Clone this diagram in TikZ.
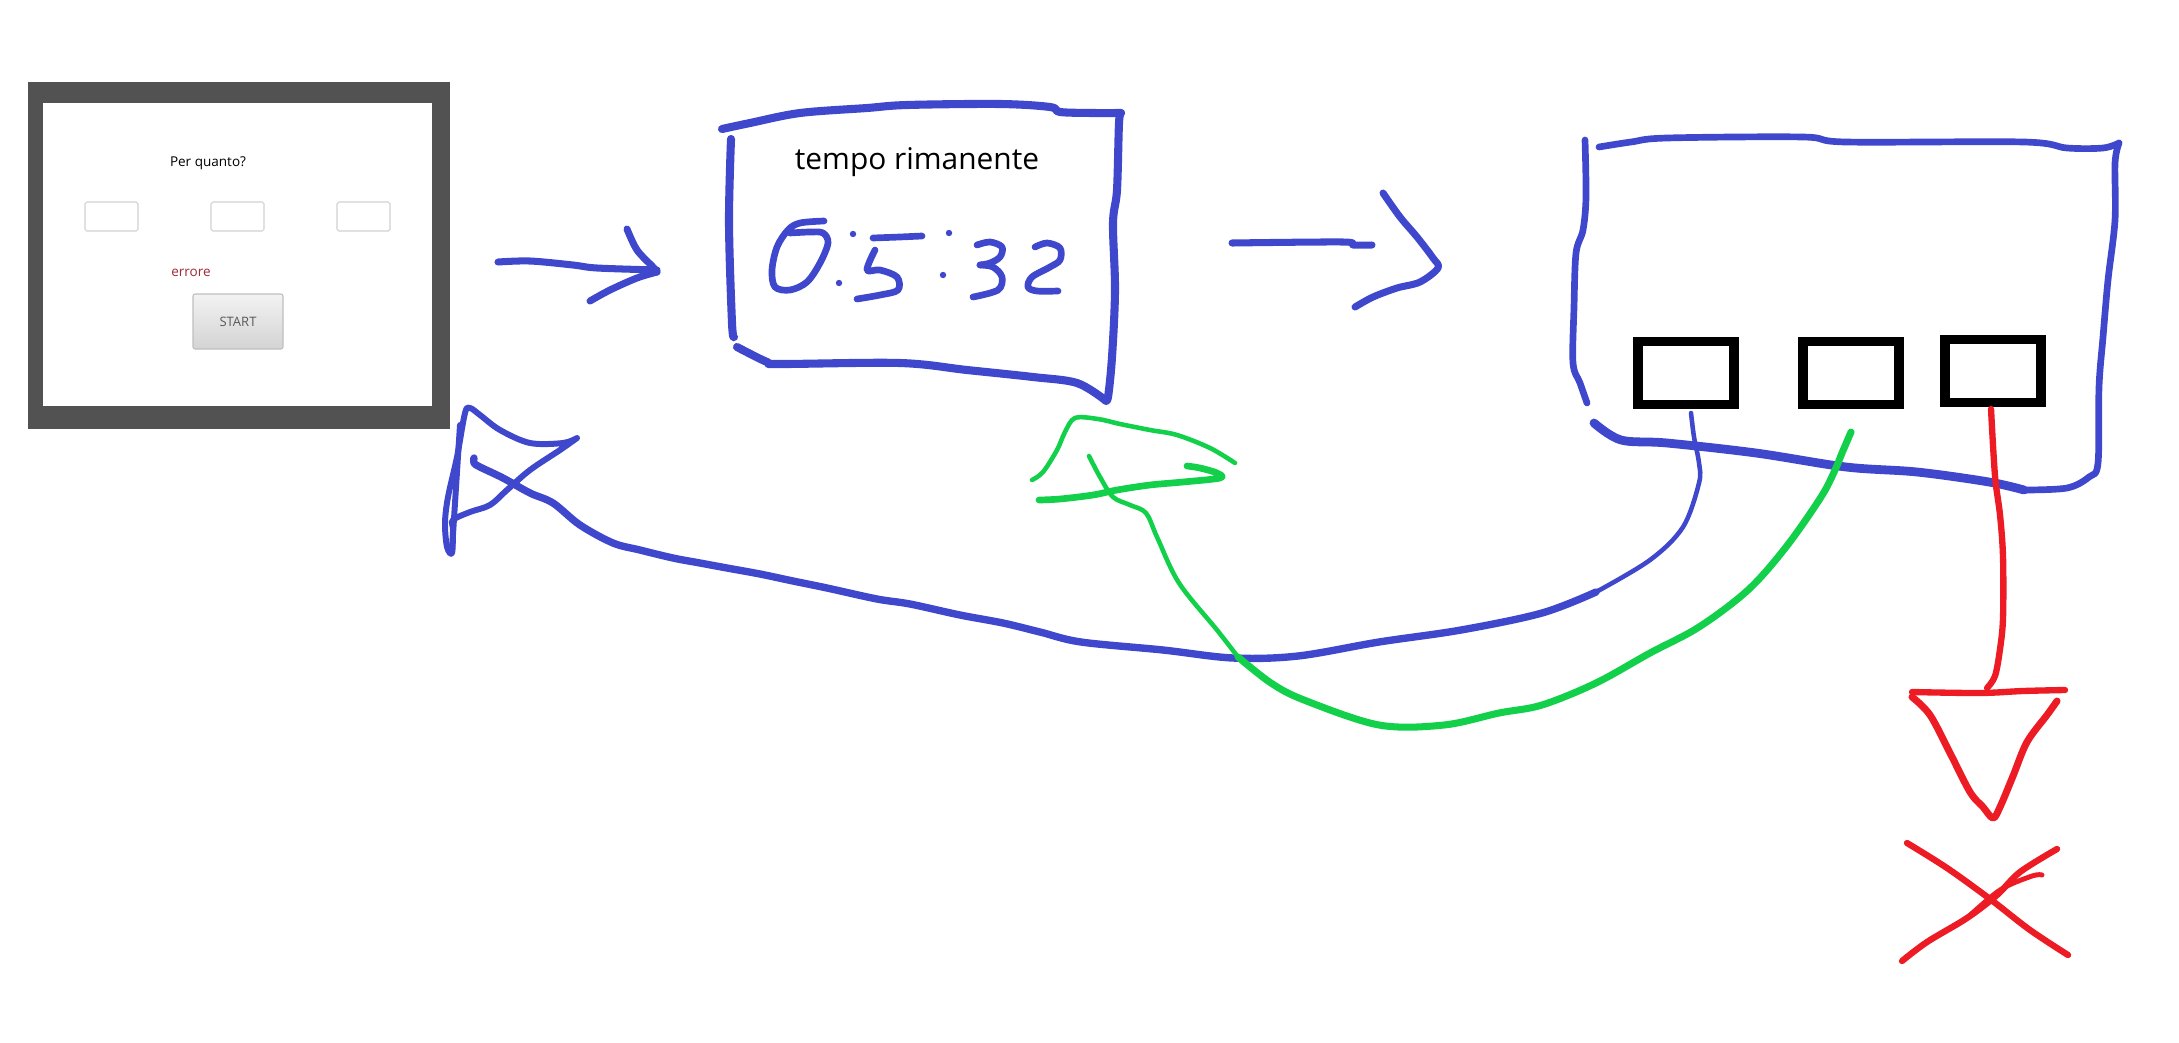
\documentclass[tikz,border=0pt]{standalone}
\usepackage{fontspec}
\setmainfont{Open Sans}
\definecolor{penblue}{HTML}{3F48CC}
\definecolor{pengreen}{HTML}{12D04A}
\definecolor{penred}{HTML}{ED1C24}
\definecolor{framegray}{HTML}{525252}
\definecolor{errred}{HTML}{9E2A35}
\tikzset{
	pen/.style={line width=#1, line cap=round, line join=round},
	pen/.default=2pt,
	bluepen/.style={pen=#1, penblue},
	bluepen/.default=2pt,
	greenpen/.style={pen=#1, pengreen},
	greenpen/.default=1.6pt,
	redpen/.style={pen=#1, penred},
	redpen/.default=1.8pt,
	field/.style={draw=black!18, fill=white, rounded corners=0.5pt, line width=0.3pt},
	slot/.style={draw=black, line width=2.7pt, minimum width=96pt*0.2845, inner sep=0pt},
	hand/.style={smooth, tension=0.55},
}
\begin{document}
\begin{tikzpicture}[x=0.01cm, y=-0.01cm]
	\useasboundingbox (0,0) rectangle (2179,1042);
	% input window
	\fill[framegray] (28,82) rectangle (450,429);
	\fill[white] (43,103) rectangle (432,406);
	\node (ask) at (208,163) {\fontsize{3.85}{4.6}\selectfont Per quanto?};
	\draw[field] (85,202) rectangle (138,231);
	\draw[field] (211,202) rectangle (264,231);
	\draw[field] (337,202) rectangle (390,231);
	\node[text=errred] (err) at (191,273) {\fontsize{3.85}{4.6}\selectfont errore};
	\shade[top color=black!5, bottom color=black!17, draw=black!25, line width=0.3pt, rounded corners=0.6pt]
		(193,294) rectangle (283,349);
	\node[text=black!65] (start) at (238,322) {\fontsize{3.7}{4.4}\selectfont START};
	% timer
	\draw[bluepen=2.3pt] plot[hand] coordinates {(722,129) (750,123) (800,113) (867,108) (907,105) (1000,104)
		(1050,107) (1060,112) (1093,113) (1121,113)};
	\draw[bluepen=2.3pt] plot[hand] coordinates {(1121,113) (1119,123) (1117,190) (1113,223) (1115,290)
		(1112,357) (1108,397) (1105,400)};
	\draw[bluepen=2.3pt] plot[hand] coordinates {(1105,400) (1077,383) (1033,377) (967,370) (900,363)
		(780,364) (767,362) (737,347)};
	\draw[bluepen=2.3pt] plot[hand] coordinates {(731,139) (729,223) (732,323) (734,337)};
	\node (label) at (917,162) {\fontsize{8.5}{10}\selectfont tempo rimanente};
	\draw[bluepen=1.9pt] plot[hand] coordinates {(824,221) (800,223) (788,230) (777,247) (772,270) (775,287)
		(790,290) (807,282) (820,263) (828,243) (823,233) (810,232) (790,233)};
	\draw[bluepen=1.9pt] (873,238) -- (900,237) -- (922,236);
	\draw[bluepen=1.9pt] plot[hand] coordinates {(875,250) (867,270) (880,270) (897,277) (898,290)
		(880,295) (857,299)};
	\draw[bluepen=1.9pt] plot[hand] coordinates {(977,245) (990,242) (1002,247) (1000,257) (990,263) (980,265)};
	\draw[bluepen=1.9pt] plot[hand] coordinates {(980,265) (993,267) (1002,277) (998,290) (973,297)};
	\draw[bluepen=1.9pt] plot[hand] coordinates {(1035,247) (1047,243) (1060,248) (1060,260) (1050,267)
		(1032,277) (1028,287) (1037,291) (1058,291)};
	\foreach \p in {(853,234),(839,283),(949,233),(943,275)}
		\fill[penblue] \p circle (3.2);
	% arrows between the screens
	\draw[bluepen] plot[hand] coordinates {(498,262) (530,261) (573,265) (597,268) (657,270)};
	\draw[bluepen] plot[hand] coordinates {(627,229) (637,250) (653,267) (657,272)};
	\draw[bluepen] plot[hand] coordinates {(657,272) (637,278) (610,290) (590,301)};
	\draw[bluepen] plot[hand] coordinates {(1232,243) (1343,242) (1353,245) (1372,245)};
	\draw[bluepen] plot[hand] coordinates {(1383,193) (1400,217) (1417,237) (1433,258) (1438,268)
		(1420,282) (1397,288) (1373,297) (1355,307)};
	% alarm screen
	\draw[bluepen=1.9pt] plot[hand] coordinates {(1585,140) (1586,197) (1583,230) (1576,253) (1574,307)
		(1573,363) (1580,383) (1587,403)};
	\draw[bluepen=1.9pt] plot[hand] coordinates {(1599,147) (1631,142) (1667,138) (1803,137) (1846,142)
		(2024,142) (2067,148) (2103,148) (2119,143)};
	\draw[bluepen=1.9pt] plot[hand] coordinates {(2119,143) (2115,163) (2115,220) (2108,280) (2103,337)
		(2099,387) (2098,463) (2089,477) (2067,488) (2024,490)};
	\draw[bluepen=2.5pt] plot[hand] coordinates {(2024,490) (1989,482) (1917,472) (1846,467) (1756,453)
		(1667,443) (1621,440) (1594,423)};
	\node[slot, minimum height=62.5pt*0.2845] (snooze) at (1686,373) {};
	\node[slot, minimum height=62.5pt*0.2845] (restart) at (1851,373) {};
	\node[slot, minimum height=62.5pt*0.2845] (stop) at (1993,371) {};
	% back to the input window
	\draw[bluepen=1.3pt] plot[hand] coordinates {(1691,413) (1694,437) (1699,463) (1699,483) (1683,527)
		(1650,560) (1596,592)};
	\draw[bluepen=2.1pt] plot[hand] coordinates {(1596,592) (1542,613) (1461,630) (1379,642) (1298,656)
		(1233,658) (1163,650) (1081,642) (1040,632) (1003,623) (960,615) (910,604) (877,599) (827,588)
		(793,581) (760,574) (727,568) (700,563) (673,558) (640,550) (613,543) (580,525) (553,503)
		(530,493) (503,478) (480,467) (474,463) (474,458)};
	\draw[bluepen=1.7pt] plot[hand] coordinates {(577,438) (563,443) (530,443) (500,430) (480,415)
		(470,408) (465,413) (457,457) (448,497) (445,523) (447,547) (452,553) (453,530) (453,520)
		(470,512) (490,505) (507,490) (530,470) (560,450) (577,438)};
	\draw[bluepen=1.7pt] (460,425) -- (452,550);
	% back to the timer
	\draw[greenpen=2pt] plot[hand] coordinates {(1851,432) (1842,453) (1835,470) (1821,497) (1786,547)
		(1748,590) (1699,627) (1650,653) (1596,683) (1542,705) (1499,713) (1444,725) (1379,725)
		(1304,700) (1271,683) (1238,657)};
	\draw[greenpen=1.3pt] plot[hand] coordinates {(1238,657) (1217,630) (1179,583) (1157,537) (1146,513)
		(1130,505) (1113,497) (1100,477) (1089,456)};
	\draw[greenpen=1.3pt] plot[hand] coordinates {(1032,480) (1043,472) (1057,450) (1065,432) (1075,418)
		(1098,419) (1120,424) (1150,430) (1177,435) (1210,448) (1235,463)};
	\draw[greenpen=1.9pt] plot[hand] coordinates {(1039,500) (1060,499) (1093,495) (1117,490) (1150,485)
		(1183,482) (1220,478) (1217,473) (1200,468) (1187,466)};
	% cancel
	\draw[redpen] plot[hand] coordinates {(1991,409) (1995,476) (2000,515) (2003,557) (2003,618)
		(2000,649) (1995,676) (1987,688)};
	\draw[redpen] plot[hand] coordinates {(1912,692) (1980,693) (2023,691) (2065,690)};
	\draw[redpen=2pt] plot[hand] coordinates {(1912,697) (1930,715) (1950,753) (1970,792) (1983,807)
		(1993,818) (2000,807) (2013,776) (2027,742) (2047,715) (2057,701)};
	\draw[redpen] plot[hand] coordinates {(1907,843) (1947,868) (1990,899) (2030,930) (2068,955)};
	\draw[redpen] plot[hand] coordinates {(1902,961) (1927,942) (1967,918) (1997,895) (2020,872) (2057,849)};
	\draw[redpen=1.4pt] plot[hand] coordinates {(1967,918) (2000,890) (2032,876) (2042,875)};
\end{tikzpicture}
\end{document}
